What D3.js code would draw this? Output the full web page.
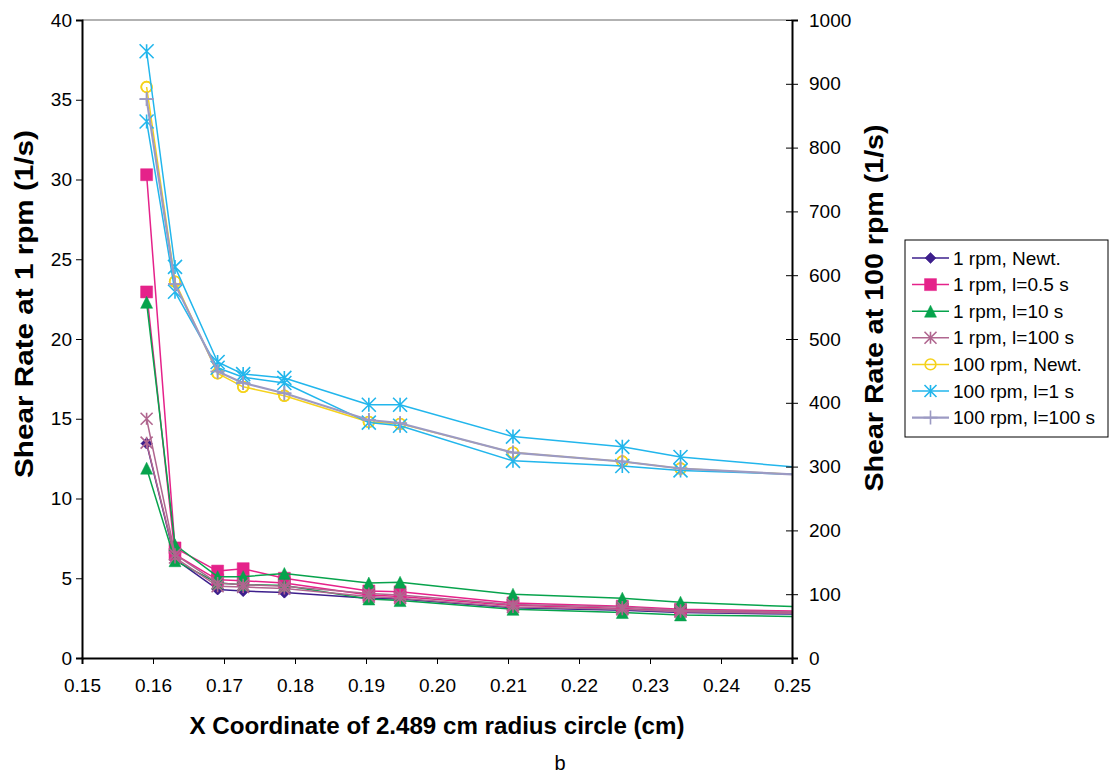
<!DOCTYPE html>
<html lang="en">
<head>
  <meta charset="UTF-8">
  <title>Shear rate along circle</title>
  <style>
    html, body {
      margin: 0;
      padding: 0;
      background: #fff;
      font-family: 'Liberation Sans', Arial, Helvetica, sans-serif;
    }
    svg { display: block; }
  </style>
</head>
<body>
  <svg id="chart" width="1112" height="775"></svg>

  <script src="https://d3js.org/d3.v7.min.js"></script>
  <script>
    // x positions (cm); last one sits just past the axis end, lines get clipped there
    const xCoord = [0.1591, 0.1631, 0.1691, 0.1727, 0.1785, 0.1904, 0.1948, 0.2107, 0.2261, 0.2343, 0.2600];

    // 1 rpm series, left axis (1/s)
    const rpm1Newt      = [13.45, 6.2, 4.3, 4.2, 4.1, 3.75, 3.7, 3.15, 3.0, 2.85, 2.69];
    const rpm1L05Upper  = [30.3, 6.9, 5.45, 5.6, 5.0, 4.2, 4.15, 3.45, 3.25, 3.05, 2.89];
    const rpm1L05Lower  = [22.95, 6.5, 4.9, 4.85, 4.7, 3.95, 3.85, 3.3, 3.1, 2.95, 2.79];
    const rpm1L10Upper  = [22.3, 7.1, 5.1, 5.1, 5.3, 4.7, 4.75, 4.0, 3.75, 3.5, 3.05];
    const rpm1L10Lower  = [11.9, 6.1, 4.7, 4.6, 4.55, 3.7, 3.6, 3.05, 2.85, 2.7, 2.54];
    const rpm1L100Upper = [15.0, 6.5, 4.7, 4.6, 4.5, 4.05, 3.95, 3.35, 3.2, 3.0, 2.84];
    const rpm1L100Lower = [13.5, 6.3, 4.5, 4.45, 4.35, 3.85, 3.75, 3.2, 3.05, 2.9, 2.74];

    // 100 rpm series, right axis (1/s)
    const rpm100Newt     = [895, 590, 446, 425, 411, 370, 367, 322, 308, 297, 282];
    const rpm100L1Upper  = [951, 613, 464, 445, 439, 397, 397, 347, 331, 315, 290];
    const rpm100L1Lower  = [841, 574, 455, 440, 431, 369, 364, 309, 301, 294, 284];
    const rpm100L100     = [876, 586, 449, 431, 415, 373, 368, 322, 308, 297, 282];

    const xTicks = [0.15, 0.16, 0.17, 0.18, 0.19, 0.20, 0.21, 0.22, 0.23, 0.24, 0.25];
    const leftTicks = [0, 5, 10, 15, 20, 25, 30, 35, 40];
    const rightTicks = [0, 100, 200, 300, 400, 500, 600, 700, 800, 900, 1000];

    const series = [
      { name: "1 rpm, Newt.",     axis: "left",  upper: rpm1Newt,      lower: rpm1Newt,      color: "#3d1f8c", marker: "diamond",  lw: 1.5 },
      { name: "1 rpm, l=0.5 s",   axis: "left",  upper: rpm1L05Upper,  lower: rpm1L05Lower,  color: "#e5228a", marker: "square",   lw: 1.5 },
      { name: "1 rpm, l=10 s",    axis: "left",  upper: rpm1L10Upper,  lower: rpm1L10Lower,  color: "#07a34c", marker: "triangle", lw: 1.5 },
      { name: "1 rpm, l=100 s",   axis: "left",  upper: rpm1L100Upper, lower: rpm1L100Lower, color: "#b0668f", marker: "asterisk", lw: 1.5 },
      { name: "100 rpm, Newt.",   axis: "right", upper: rpm100Newt,    lower: rpm100Newt,    color: "#f5d21c", marker: "circle",   lw: 1.5 },
      { name: "100 rpm, l=1 s",   axis: "right", upper: rpm100L1Upper, lower: rpm100L1Lower, color: "#22b6ec", marker: "asterisk", lw: 1.5 },
      { name: "100 rpm, l=100 s", axis: "right", upper: rpm100L100,    lower: rpm100L100,    color: "#9c9ac3", marker: "plus",     lw: 2.2 }
    ];

    const svg = d3.select("#chart");
    const plotL = 82, plotR = 792, plotT = 20, plotB = 658;

    const x = d3.scaleLinear().domain([0.15, 0.25]).range([plotL, plotR]);
    const yL = d3.scaleLinear().domain([0, 40]).range([plotB, plotT]);
    const yR = d3.scaleLinear().domain([0, 1000]).range([plotB, plotT]);

    svg.append("defs").append("clipPath").attr("id", "plot-clip")
      .append("rect")
      .attr("x", plotL).attr("y", plotT - 10)
      .attr("width", plotR - plotL).attr("height", plotB - plotT + 10);

    // gray plot border on top
    svg.append("line")
      .attr("x1", plotL).attr("x2", plotR).attr("y1", plotT).attr("y2", plotT)
      .attr("stroke", "#999").attr("stroke-width", 1.5);

    // marker paths
    function markerPath(type, s) {
      const h = s / 2;
      switch (type) {
        case "diamond":  return `M0,${-h}L${h},0L0,${h}L${-h},0Z`;
        case "square":   return `M${-h},${-h}H${h}V${h}H${-h}Z`;
        case "triangle": return `M0,${-h}L${h},${h}L${-h},${h}Z`;
        case "circle":   return d3.symbol(d3.symbolCircle, Math.PI * h * h * 0.8)();
        case "asterisk": return `M${-h},${-h}L${h},${h}M${-h},${h}L${h},${-h}M0,${-h}V${h}`;
        case "plus":     return `M${-h},0H${h}M0,${-h}V${h}`;
      }
    }
    function styleMarker(sel, s) {
      const filled = s.marker === "diamond" || s.marker === "square" || s.marker === "triangle";
      sel.attr("fill", filled ? s.color : "none")
        .attr("stroke", s.color)
        .attr("stroke-width", filled ? 0.5 : 1.6);
    }
    const markerSize = { diamond: 11, square: 12, triangle: 12, asterisk: 12, circle: 12, plus: 14 };

    const plot = svg.append("g").attr("clip-path", "url(#plot-clip)");
    const line = d3.line().x(d => x(d[0])).y(d => d[1]);

    series.forEach(s => {
      const y = s.axis === "left" ? yL : yR;
      const up = xCoord.map((xv, i) => [xv, y(s.upper[i])]);
      const lo = xCoord.map((xv, i) => [xv, y(s.lower[i])]).reverse();
      plot.append("path")
        .attr("d", line(up.concat(lo)))
        .attr("fill", "none")
        .attr("stroke", s.color)
        .attr("stroke-width", s.lw)
        .attr("stroke-linejoin", "round");

      const pts = up.concat(lo).filter(p => p[0] <= 0.25);
      const size = markerSize[s.marker] + (s.axis === "right" && s.marker === "asterisk" ? 2 : 0);
      plot.selectAll(null)
        .data(pts)
        .enter()
        .append("path")
        .attr("transform", d => `translate(${x(d[0])},${d[1]})`)
        .attr("d", markerPath(s.marker, size))
        .call(styleMarker, s);
    });

    // axes
    const xAxis = svg.append("g")
      .attr("transform", `translate(0,${plotB})`)
      .call(d3.axisBottom(x).tickValues(xTicks).tickFormat(d3.format(".2f")).tickSizeOuter(0).tickSize(6).tickPadding(15));
    const lAxis = svg.append("g")
      .attr("transform", `translate(${plotL},0)`)
      .call(d3.axisLeft(yL).tickValues(leftTicks).tickFormat(d3.format("d")).tickSizeOuter(0).tickSize(6).tickPadding(4));
    const rAxis = svg.append("g")
      .attr("transform", `translate(${plotR},0)`)
      .call(d3.axisRight(yR).tickValues(rightTicks).tickFormat(d3.format("d")).tickSizeOuter(0).tickSize(6).tickPadding(11));
    rAxis.selectAll(".tick line").attr("x1", -6);

    [xAxis, lAxis, rAxis].forEach(a => {
      a.select(".domain").attr("stroke", "#000").attr("stroke-width", 2);
      a.selectAll(".tick line").attr("stroke", "#000").attr("stroke-width", 1);
      a.selectAll(".tick text")
        .attr("fill", "#000")
        .style("font-family", "'Liberation Sans', Arial, sans-serif")
        .style("font-size", "19px");
    });

    // axis titles
    svg.append("text")
      .attr("x", 437).attr("y", 734)
      .attr("text-anchor", "middle")
      .attr("textLength", 495).attr("lengthAdjust", "spacingAndGlyphs")
      .style("font-size", "23px").style("font-weight", "bold")
      .text("X Coordinate of 2.489 cm radius circle (cm)");
    svg.append("text")
      .attr("transform", "translate(33,304) rotate(-90)")
      .attr("text-anchor", "middle")
      .attr("textLength", 348).attr("lengthAdjust", "spacingAndGlyphs")
      .style("font-size", "25px").style("font-weight", "bold")
      .text("Shear Rate at 1 rpm (1/s)");
    svg.append("text")
      .attr("transform", "translate(883,308) rotate(-90)")
      .attr("text-anchor", "middle")
      .attr("textLength", 367).attr("lengthAdjust", "spacingAndGlyphs")
      .style("font-size", "25px").style("font-weight", "bold")
      .text("Shear Rate at 100 rpm (1/s)");
    svg.append("text")
      .attr("x", 560).attr("y", 770)
      .attr("text-anchor", "middle")
      .style("font-size", "20px")
      .text("b");

    // legend
    const lg = svg.append("g").attr("transform", "translate(905,240)");
    lg.append("rect")
      .attr("width", 203).attr("height", 197)
      .attr("fill", "#fff").attr("stroke", "#000").attr("stroke-width", 1);
    series.forEach((s, i) => {
      const yy = 18 + i * 26.6;
      const row = lg.append("g").attr("transform", `translate(0,${yy})`);
      row.append("line")
        .attr("x1", 7).attr("x2", 44)
        .attr("stroke", s.color).attr("stroke-width", s.lw);
      row.append("path")
        .attr("transform", "translate(25.5,0)")
        .attr("d", markerPath(s.marker, markerSize[s.marker]))
        .call(styleMarker, s);
      row.append("text")
        .attr("x", 48).attr("y", 0).attr("dy", "0.35em")
        .style("font-size", "19px")
        .text(s.name);
    });
  </script>
</body>
</html>
